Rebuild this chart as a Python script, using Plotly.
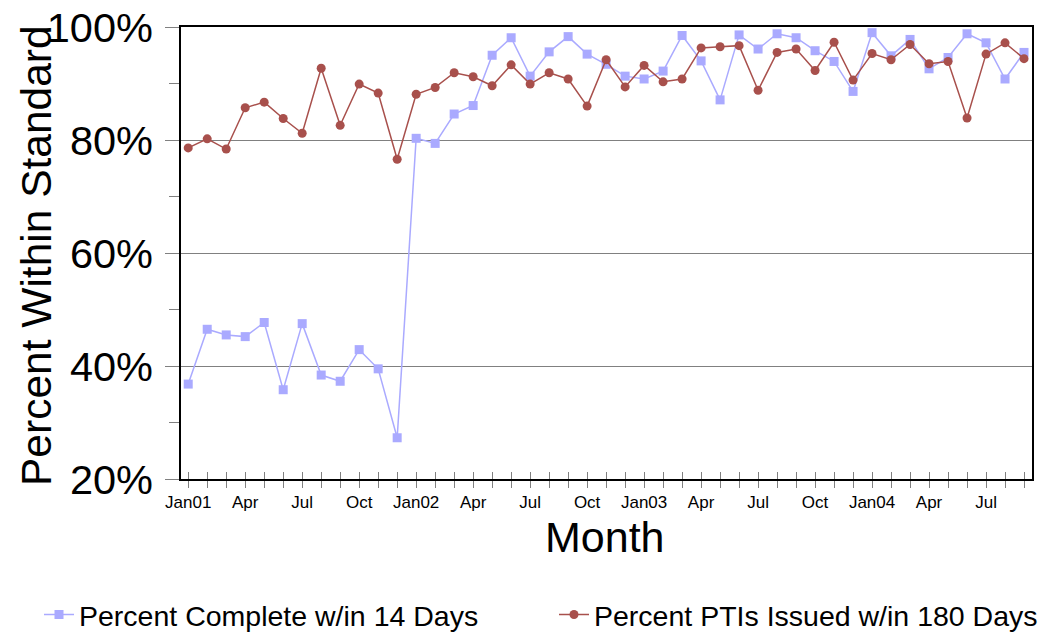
import plotly.graph_objects as go

months = ["Jan01","Feb01","Mar01","Apr01","May01","Jun01","Jul01","Aug01","Sep01","Oct01","Nov01","Dec01",
          "Jan02","Feb02","Mar02","Apr02","May02","Jun02","Jul02","Aug02","Sep02","Oct02","Nov02","Dec02",
          "Jan03","Feb03","Mar03","Apr03","May03","Jun03","Jul03","Aug03","Sep03","Oct03","Nov03","Dec03",
          "Jan04","Feb04","Mar04","Apr04","May04","Jun04","Jul04","Aug04","Sep04"]

tick_labels = ["Jan01","","","Apr","","","Jul","","","Oct","","",
               "Jan02","","","Apr","","","Jul","","","Oct","","",
               "Jan03","","","Apr","","","Jul","","","Oct","","",
               "Jan04","","","Apr","","","Jul","",""]

pct_complete_14 = [36.8,46.5,45.5,45.2,47.7,35.8,47.5,38.4,37.3,42.9,39.5,27.3,
                   80.3,79.4,84.6,86.1,95.0,98.1,91.3,95.6,98.3,95.2,93.4,91.3,
                   90.8,92.2,98.5,94.0,87.1,98.6,96.1,98.8,98.1,95.8,93.9,88.6,
                   99.0,94.9,97.8,92.6,94.6,98.8,97.2,90.8,95.5]

pct_pti_180 = [78.6,80.2,78.4,85.7,86.7,83.8,81.2,92.7,82.6,89.9,88.3,76.6,
               88.1,89.3,91.9,91.2,89.6,93.3,89.9,91.9,90.8,86.0,94.2,89.4,
               93.2,90.3,90.8,96.3,96.5,96.7,88.8,95.5,96.1,92.3,97.3,90.6,
               95.3,94.2,96.9,93.5,93.9,83.9,95.2,97.2,94.4]

y_ticks = [20, 40, 60, 80, 100]
y_tick_text = ["20%", "40%", "60%", "80%", "100%"]

BLUE = "#aaaaff"
RED = "#a8504c"
FONT = "Liberation Sans, Arial, sans-serif"

# page body adds an 8px offset; layout numbers below are in figure coordinates
OFF = 8
W, H = 1055, 634
L = 181 - OFF
T = 27 - OFF
R = W - (1032 - OFF)
B = H - (479 - OFF)
PW = W - L - R
PH = H - T - B

def px_x(screen_x):
    return (screen_x - OFF - L) / PW

def px_y(screen_y):
    return (H - B - (screen_y - OFF)) / PH

fig = go.Figure()
fig.add_trace(go.Scatter(
    x=months, y=pct_complete_14, name="Percent Complete w/in 14 Days",
    mode="lines+markers",
    line=dict(color=BLUE, width=1.5),
    marker=dict(symbol="square", size=9, color=BLUE),
    legend="legend",
))
fig.add_trace(go.Scatter(
    x=months, y=pct_pti_180, name="Percent PTIs Issued w/in 180 Days",
    mode="lines+markers",
    line=dict(color=RED, width=1.5),
    marker=dict(symbol="circle", size=9, color=RED),
    legend="legend2",
))
# helper trace to carry the second (inside-tick) x axis
fig.add_trace(go.Scatter(x=[0], y=[None], xaxis="x2", showlegend=False, hoverinfo="skip"))

xr = [-0.38, 44.42]
leg_font = dict(size=28.5, family=FONT)
fig.update_layout(
    width=W, height=H,
    paper_bgcolor="white", plot_bgcolor="white",
    margin=dict(l=L, r=R, t=T, b=B, autoexpand=False),
    font=dict(family=FONT, color="black"),
    xaxis=dict(
        type="category", range=xr, automargin=False,
        tickmode="array", tickvals=months, ticktext=tick_labels,
        ticks="outside", ticklen=7, tickwidth=1, tickcolor="#808080",
        tickfont=dict(size=17, family=FONT), tickangle=0,
        showline=True, linecolor="black", linewidth=1.5, mirror=True,
        showgrid=False, zeroline=False,
    ),
    xaxis2=dict(
        overlaying="x", anchor="y", side="bottom", range=xr,
        tick0=0, dtick=1, ticks="inside", ticklen=7, tickwidth=1, tickcolor="#808080",
        showticklabels=False, showline=False, showgrid=False, zeroline=False,
    ),
    yaxis=dict(
        range=[20, 100], tickmode="array", tickvals=y_ticks, ticktext=y_tick_text,
        automargin=False, ticklabeloverflow="allow",
        ticks="outside", ticklen=14, tickwidth=1, tickcolor="#808080",
        ticklabelstandoff=4,
        tickfont=dict(size=41.5, family=FONT),
        minor=dict(dtick=10, tick0=0, ticks="outside", ticklen=10, tickcolor="#808080", showgrid=False),
        showline=True, linecolor="black", linewidth=1.5, mirror=True,
        showgrid=True, gridcolor="#808080", gridwidth=1, zeroline=False,
    ),
    legend=dict(
        orientation="h", x=px_x(39), xanchor="left", y=px_y(615), yanchor="middle",
        font=leg_font, bgcolor="rgba(0,0,0,0)",
    ),
    legend2=dict(
        orientation="h", x=px_x(554), xanchor="left", y=px_y(615), yanchor="middle",
        font=leg_font, bgcolor="rgba(0,0,0,0)",
    ),
    annotations=[
        dict(text="Month", xref="paper", yref="paper", x=px_x(605), y=px_y(537),
             xanchor="center", yanchor="middle", showarrow=False,
             font=dict(size=43, family=FONT)),
        dict(text="Percent Within Standard", xref="paper", yref="paper",
             x=px_x(37), y=px_y(256), xanchor="center", yanchor="middle",
             textangle=-90, showarrow=False, font=dict(size=42.5, family=FONT)),
    ],
)

fig.write_html("out.html")
